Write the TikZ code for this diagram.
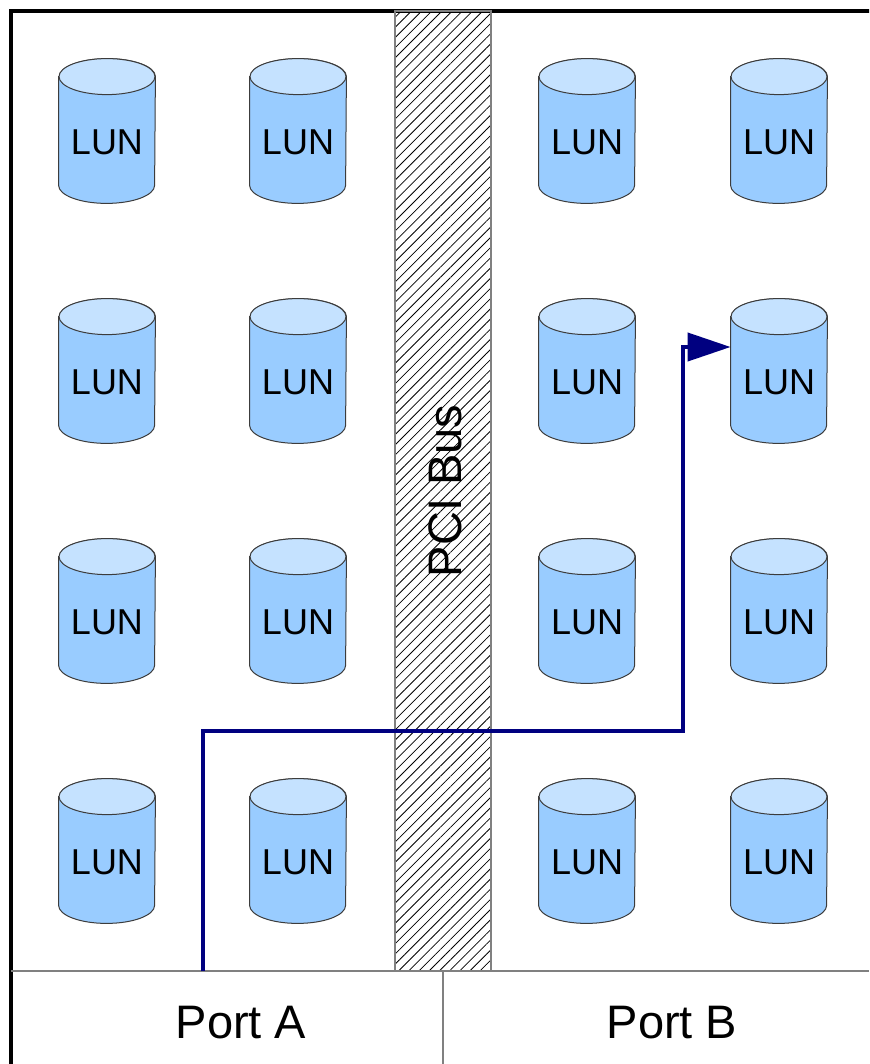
\documentclass[tikz,border=0pt]{standalone}
\usepackage{fontspec}
\setmainfont{Liberation Sans}
\usetikzlibrary{patterns.meta,arrows.meta}
\definecolor{lunbody}{RGB}{153,204,255}
\definecolor{luntop}{RGB}{197,226,255}
\definecolor{lunline}{RGB}{60,60,60}
\definecolor{routeblue}{RGB}{0,0,128}
\definecolor{framegray}{RGB}{128,128,128}

\begin{document}
\begin{tikzpicture}[x=0.5pt, y=-0.5pt,
    lunbox/.style={minimum width=48pt, minimum height=72pt, inner sep=0pt},
    lunside/.style={fill=lunbody, draw=lunline, line width=0.5pt},
    luncap/.style={fill=luntop, draw=lunline, line width=0.5pt},
    luntext/.style={font=\fontsize{18}{20}\selectfont, inner sep=0pt},
    route/.style={draw=routeblue, line width=2pt, -{Triangle[length=21.5pt, width=14pt]}},
    bigtext/.style={font=\fontsize{23.5}{26}\selectfont}]
    % Bildausschnitt
    \clip (0,0) rectangle (869,1064);
    \fill[white] (0,0) rectangle (869,1064);

    % Gehaeuse
    \draw[line width=2pt] (11,11) rectangle (900,1100);

    % PCI-Bus
    \draw[framegray, line width=1pt, pattern={Lines[angle=45, distance=3.6pt, line width=0.4pt]}]
        (395,11) rectangle (491,971);
    \node[bigtext, rotate=90] (pci) at (445,491) {PCI Bus};

    % Ports
    \draw[framegray, line width=1pt] (11,971) -- (869,971);
    \draw[framegray, line width=1pt] (443,971) -- (443,1064);
    \node[bigtext] (port-a) at (241,1023) {Port A};
    \node[bigtext] (port-b) at (672,1023) {Port B};

    % LUNs
    \foreach \r/\y in {1/131, 2/371, 3/611, 4/851}
        \foreach \c/\x in {1/107, 2/298, 3/587, 4/779} {
            \node[lunbox] (lun-\r-\c) at (\x,\y) {};
            \draw[lunside] ([yshift=-9pt]lun-\r-\c.north west) -- ([yshift=9pt]lun-\r-\c.south west)
                arc[start angle=180, end angle=360, x radius=24pt, y radius=9pt]
                -- ([yshift=-9pt]lun-\r-\c.north east)
                arc[start angle=0, end angle=180, x radius=24pt, y radius=9pt] -- cycle;
            \draw[luncap] ([yshift=-9pt]lun-\r-\c.north) ellipse[x radius=24pt, y radius=9pt];
            \node[luntext] (lun-\r-\c-txt) at ([yshift=-5.5pt]lun-\r-\c.center) {LUN};
        }

    % Pfad von Port A
    \coordinate (src) at (203,971);
    \coordinate (bend) at (683,731);
    \draw[route] (src) |- (bend) |- ([yshift=12pt]lun-2-4.west);
\end{tikzpicture}
\end{document}
